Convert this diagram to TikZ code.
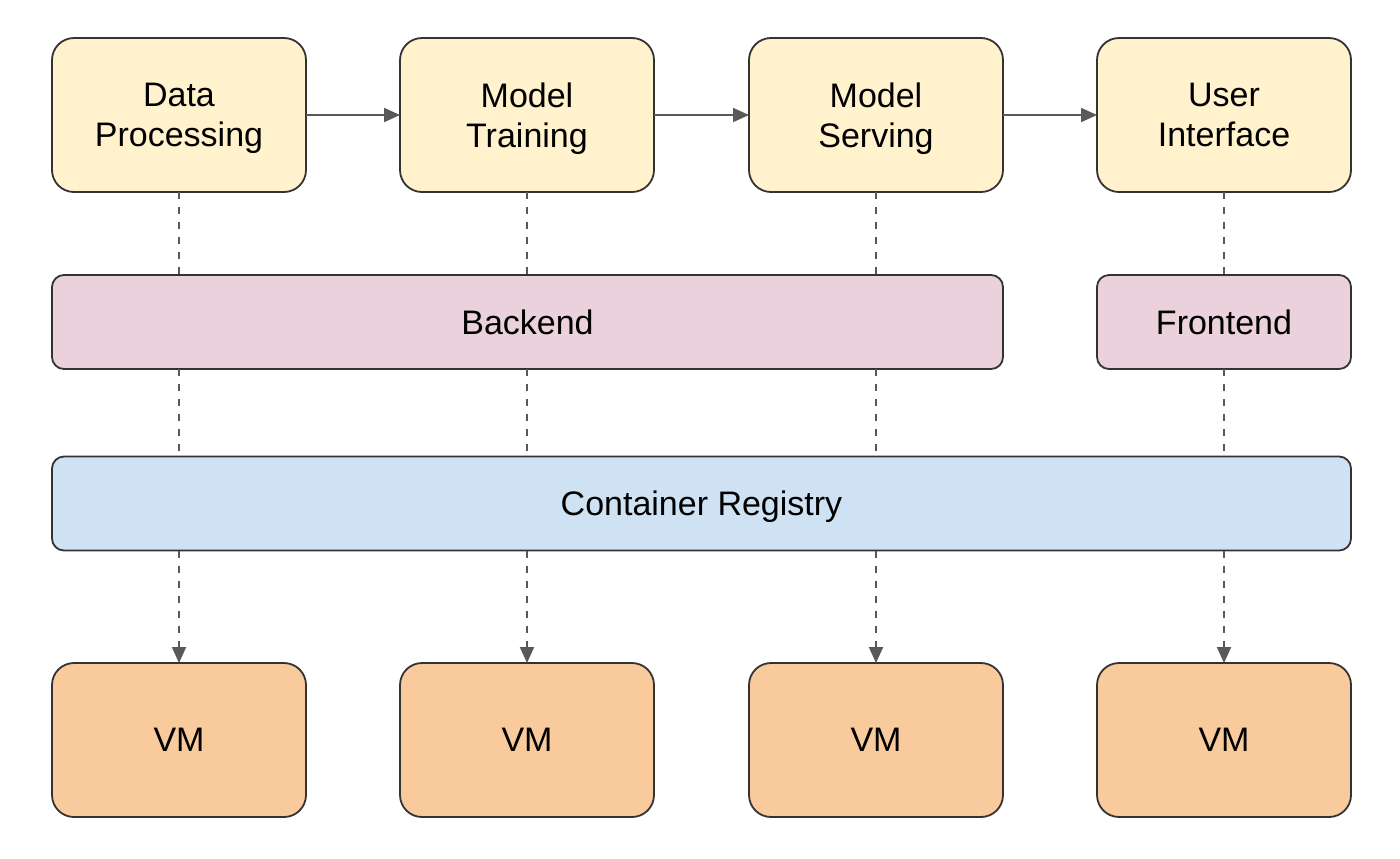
\documentclass[tikz,border=0pt]{standalone}
\usepackage{fontspec}
\setmainfont{Liberation Sans}
\usetikzlibrary{arrows.meta,calc}
\definecolor{yel}{HTML}{FFF2CC}
\definecolor{pnk}{HTML}{EAD1DC}
\definecolor{blu}{HTML}{CFE2F3}
\definecolor{org}{HTML}{F9CB9C}
\definecolor{edge}{HTML}{333333}
\definecolor{arr}{HTML}{595959}
\begin{document}
\begin{tikzpicture}[x=0.5pt,y=-0.5pt,
  box/.style={draw=edge,line width=0.9pt,rounded corners=11pt,inner sep=0pt,outer sep=0pt,
    font=\fontsize{17}{20}\selectfont,align=center,text=black,text depth=-2pt},
  topbox/.style={box,fill=yel,minimum width=127pt,minimum height=77pt},
  vmbox/.style={box,fill=org,minimum width=127pt,minimum height=77pt},
  midbox/.style={box,rounded corners=6pt,minimum height=47pt},
  flow/.style={draw=arr,line width=1pt,-{Triangle[length=8pt,width=7pt]}},
  dep/.style={draw=arr,line width=1pt,dash pattern=on 3.5pt off 4pt},
  deparr/.style={dep,-{Triangle[length=8pt,width=7pt]}}]
\useasboundingbox (0,0) rectangle (1400,858);
\node[topbox] (dp) at (179,115) {Data\\Processing};
\node[topbox] (mt) at (527,115) {Model\\Training};
\node[topbox] (ms) at (876,115) {Model\\Serving};
\node[topbox] (ui) at (1224,115) {User\\Interface};
\node[midbox,fill=pnk,minimum width=475.5pt] (be) at (527.5,322) {Backend};
\node[midbox,fill=pnk,minimum width=127pt] (fe) at (1224,322) {Frontend};
\node[midbox,fill=blu,minimum width=649.5pt] (cr) at (701.5,503.5) {Container Registry};
\node[vmbox] (v1) at (179,740) {VM};
\node[vmbox] (v2) at (527,740) {VM};
\node[vmbox] (v3) at (876,740) {VM};
\node[vmbox] (v4) at (1224,740) {VM};
\draw[flow] (dp) -- (mt);
\draw[flow] (mt) -- (ms);
\draw[flow] (ms) -- (ui);
\foreach \t/\m/\v in {dp/be/v1, mt/be/v2, ms/be/v3, ui/fe/v4}{
  \draw[dep] (\t.south) -- (\t.south |- \m.north);
  \draw[dep] (\t.south |- \m.south) -- (\t.south |- cr.north);
  \draw[deparr] (\t.south |- cr.south) -- (\v.north);
}
\end{tikzpicture}
\end{document}
